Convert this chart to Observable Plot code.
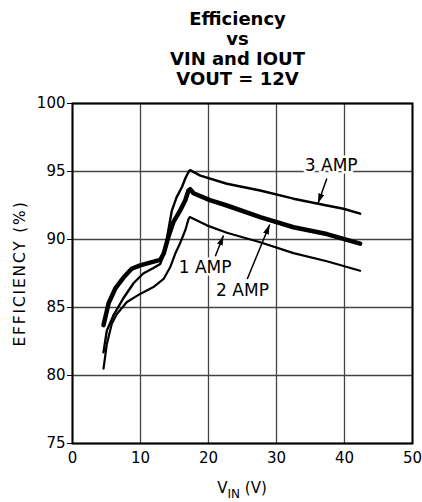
<!DOCTYPE html>
<html><head><meta charset="utf-8">
<script src="https://cdn.jsdelivr.net/npm/d3@7"></script>
<script src="https://cdn.jsdelivr.net/npm/@observablehq/plot@0.6"></script>
<style>
body{margin:0;background:#fff;overflow:hidden;font-family:"DejaVu Sans",sans-serif}
#title{box-sizing:border-box;width:422px;height:89px;padding:9px 0 0 53px;text-align:center;font-weight:bold;font-size:18px;line-height:20px;color:#000}
</style></head><body>
<div id="title">Efficiency<br>vs<br>VIN and IOUT<br>VOUT = 12V</div>
<div id="chart"></div>
<script>
// Tick values
const xTicks = [0, 10, 20, 30, 40, 50];
const yTicks = [75, 80, 85, 90, 95, 100];

// 1 AMP series
const vin1 = [4.56, 5.05, 5.78, 6.5, 8.0, 9.95, 11.9, 13.4, 14.4, 15.1, 15.8, 16.6, 17.06, 17.25, 19.75, 22.7, 27.6, 32.5, 37.4, 42.3];
const eff1 = [80.5, 82.3, 83.8, 84.5, 85.4, 86.0, 86.5, 87.1, 88.0, 88.95, 89.7, 90.7, 91.5, 91.65, 91.04, 90.5, 89.8, 89.0, 88.4, 87.7];

// 2 AMP series
const vin2 = [4.56, 5.3, 6.3, 7.5, 8.7, 9.95, 11.4, 12.9, 13.4, 14.1, 14.85, 15.8, 16.6, 17.05, 17.3, 17.8, 20.2, 22.7, 27.6, 32.5, 37.4, 39.85, 42.3];
const eff2 = [83.7, 85.3, 86.4, 87.2, 87.85, 88.1, 88.3, 88.5, 88.95, 90.2, 91.3, 92.1, 92.9, 93.6, 93.7, 93.4, 92.9, 92.5, 91.65, 90.9, 90.4, 90.05, 89.7];

// 3 AMP series
const vin3 = [4.56, 5.05, 6.0, 7.5, 9.0, 10.4, 11.9, 12.9, 13.6, 14.1, 14.6, 15.3, 16.1, 16.6, 17.06, 17.3, 18.8, 22.7, 27.6, 32.5, 37.4, 39.85, 42.3];
const eff3 = [81.7, 83.3, 84.4, 85.7, 86.8, 87.5, 87.9, 88.2, 89.2, 90.7, 92.1, 93.1, 93.86, 94.5, 94.97, 95.1, 94.7, 94.1, 93.6, 93.0, 92.5, 92.26, 91.9];

// Annotations
const labelText = ["1 AMP", "2 AMP", "3 AMP"];
const labelX = [19.5, 25.0, 38.05];
const labelY = [87.94, 86.27, 95.46];
const arrowX1 = [21.0, 25.7, 37.4];
const arrowY1 = [88.77, 87.1, 94.49];
const arrowX2 = [22.2, 29.0, 36.1];
const arrowY2 = [90.3, 91.1, 92.65];

const toRows = (xs, ys) => xs.map((x, i) => ({x, y: ys[i]}));
const s1 = toRows(vin1, eff1), s2 = toRows(vin2, eff2), s3 = toRows(vin3, eff3);
const labels = labelText.map((t, i) => ({t, x: labelX[i], y: labelY[i]}));
const arrows = arrowX1.map((x1, i) => ({x1, y1: arrowY1[i], x2: arrowX2[i], y2: arrowY2[i]}));

const lineOpts = {x: "x", y: "y", stroke: "#000", strokeLinejoin: "round", strokeLinecap: "round"};

const chart = Plot.plot({
  width: 422, height: 413,
  marginTop: 14, marginBottom: 59, marginLeft: 72, marginRight: 10,
  style: {fontFamily: "DejaVu Sans", fontSize: "15px", color: "#000", background: "#fff"},
  x: {domain: [0, 50]},
  y: {domain: [75, 100]},
  marks: [
    Plot.gridX(xTicks, {stroke: "#444", strokeOpacity: 1, strokeWidth: 1.3}),
    Plot.gridY(yTicks, {stroke: "#444", strokeOpacity: 1, strokeWidth: 1.3}),
    Plot.axisX(xTicks, {tickSize: 0, tickPadding: 9, label: null, fontSize: 15}),
    Plot.axisY(yTicks, {tickSize: 5, tickPadding: 2, label: null, fontSize: 15}),
    Plot.text(["EFFICIENCY (%)"], {frameAnchor: "left", textAnchor: "middle", dx: -52, rotate: -90, fontSize: 15.5, fill: "#000", className: "ylab"}),
    Plot.line(s1, {...lineOpts, strokeWidth: 2.2}),
    Plot.line(s3, {...lineOpts, strokeWidth: 2.4}),
    Plot.line(s2, {...lineOpts, strokeWidth: 4.5}),
    Plot.link(arrows, {x1: "x1", y1: "y1", x2: "x2", y2: "y2", stroke: "#000", strokeWidth: 1.5, className: "annarrow"}),
    Plot.text(labels, {x: "x", y: "y", text: "t", fontSize: 17, fill: "#000", stroke: "#fff", strokeWidth: 5}),
    Plot.frame({stroke: "#000", strokeWidth: 2})
  ]
});

const svg = d3.select(chart);
const defs = svg.insert("defs", ":first-child");
defs.append("marker").attr("id", "ah").attr("viewBox", "0 0 10 6").attr("refX", 10).attr("refY", 3)
  .attr("markerWidth", 10).attr("markerHeight", 6).attr("markerUnits", "userSpaceOnUse").attr("orient", "auto")
  .append("path").attr("d", "M0,0L10,3L0,6Z").attr("fill", "#000");
svg.selectAll("g.annarrow path").attr("marker-end", "url(#ah)");
svg.selectAll("g.ylab text").style("letter-spacing", "1.8px");

const xs = chart.scale("x"), ys = chart.scale("y");
const t = svg.append("text").attr("x", xs.apply(25)).attr("y", ys.apply(75) + 49.5)
  .attr("text-anchor", "middle").attr("font-size", 15).attr("fill", "#000").attr("font-family", "DejaVu Sans");
t.append("tspan").text("V");
t.append("tspan").attr("font-size", 12).attr("dy", 5).text("IN");
t.append("tspan").attr("dy", -5).text(" (V)");

document.getElementById("chart").appendChild(chart);
</script></body></html>
